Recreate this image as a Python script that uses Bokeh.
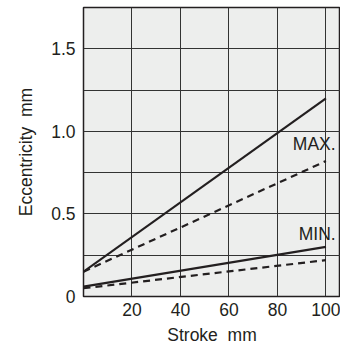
from bokeh.plotting import figure
from bokeh.models import FixedTicker, Range1d
from bokeh.embed import file_html
from bokeh.resources import INLINE
from bokeh.core.properties import value

stroke = [0, 100]
max_solid = [0.15, 1.2]
max_dashed = [0.15, 0.82]
min_solid = [0.06, 0.30]
min_dashed = [0.05, 0.22]
x_ticks = [20, 40, 60, 80, 100]
y_ticks = [0, 0.5, 1.0, 1.5]
y_grid = [0.25, 0.5, 0.75, 1.0, 1.25, 1.5]
labels = ["MAX.", "MIN."]
label_x = [104, 104]
label_y = [0.925, 0.38]

FONT = "Liberation Sans"
INK = "#231f20"

p = figure(frame_width=257, frame_height=289, output_backend="svg", toolbar_location=None,
           x_range=Range1d(0, 106), y_range=Range1d(0, 1.75),
           min_border_left=83, min_border_right=0, min_border_top=7, min_border_bottom=10)
p.background_fill_color = "#edeeed"
p.outline_line_color = INK
p.outline_line_width = 1.5

p.xaxis.ticker = FixedTicker(ticks=x_ticks)
p.yaxis.ticker = FixedTicker(ticks=y_ticks)
p.yaxis.major_label_overrides = {0: "0", 0.5: "0.5", 1.0: "1.0", 1.5: "1.5"}
p.xgrid.ticker = FixedTicker(ticks=x_ticks)
p.ygrid.ticker = FixedTicker(ticks=y_grid)
for g in (p.xgrid, p.ygrid):
    g.grid_line_color = "#333333"
    g.grid_line_width = 1
    g.grid_line_alpha = 1

for ax in (p.xaxis, p.yaxis):
    ax.axis_line_color = None
    ax.major_tick_line_color = None
    ax.minor_tick_line_color = None
    ax.major_tick_out = 0
    ax.major_tick_in = 0
    ax.minor_tick_out = 0
    ax.minor_tick_in = 0
    ax.major_label_text_font = FONT
    ax.major_label_text_font_size = "17.5px"
    ax.major_label_text_color = INK
    ax.axis_label_text_font = FONT
    ax.axis_label_text_font_size = "17.5px"
    ax.axis_label_text_font_style = "normal"
    ax.axis_label_text_color = INK

p.xaxis.axis_label = "Stroke\u00a0\u00a0mm"
p.yaxis.axis_label = "Eccentricity\u00a0\u00a0mm"
p.xaxis.major_label_standoff = 6
p.yaxis.major_label_standoff = 8
p.xaxis.axis_label_standoff = 6
p.yaxis.axis_label_standoff = 12

p.line(stroke, max_solid, line_color=INK, line_width=2.2)
p.line(stroke, max_dashed, line_color=INK, line_width=2.2, line_dash="7 5")
p.line(stroke, min_solid, line_color=INK, line_width=2.2)
p.line(stroke, min_dashed, line_color=INK, line_width=2.2, line_dash="7 5")

p.text(x=label_x, y=label_y, text=labels, text_align="right", text_baseline="middle",
       text_font=value(FONT), text_font_size="17.5px", text_color=INK)

open("out.html", "w").write(file_html(p, INLINE))
